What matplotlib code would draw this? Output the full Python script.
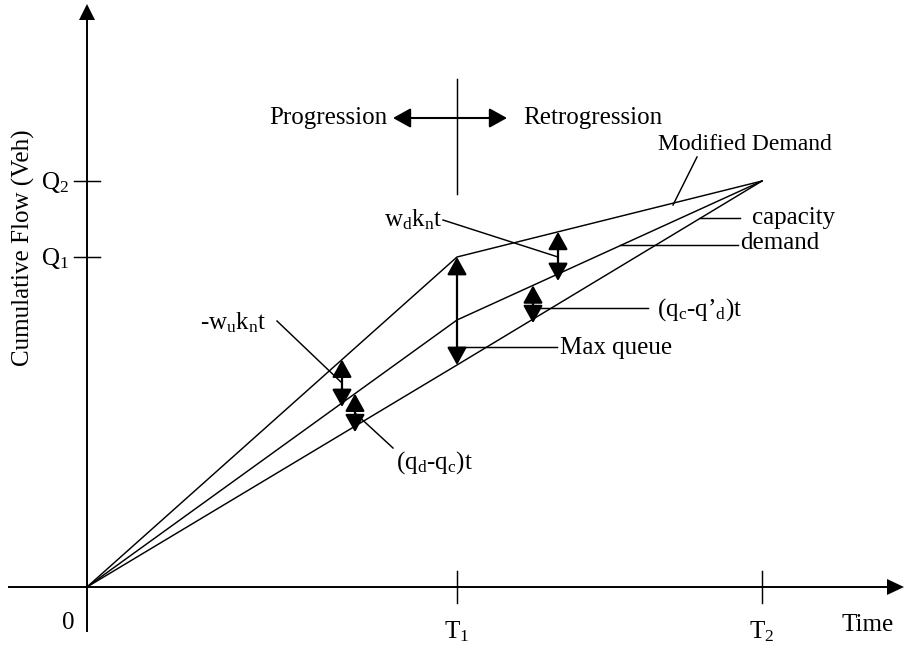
import numpy as np
import matplotlib
matplotlib.use("Agg")
import matplotlib.pyplot as plt
from matplotlib.patches import Polygon

plt.rcParams['font.family'] = ['Liberation Serif', 'DejaVu Serif']
plt.rcParams['mathtext.fontset'] = 'custom'
plt.rcParams['mathtext.rm'] = 'Liberation Serif'
plt.rcParams['mathtext.it'] = 'Liberation Serif'
plt.rcParams['mathtext.default'] = 'regular'

# Time breakpoints (0, T1, T2) and cumulative vehicle counts
times = [0, 370, 675]
modified_demand = [0, 330, 406]
demand = [0, 267, 406]
capacity = [0, 222, 406]

q_ticks = [330, 406]
q_labels = ['Q$_1$', 'Q$_2$']
t_ticks = [370, 675]
t_labels = ['T$_1$', 'T$_2$']

# Times at which the gaps between curves are marked
t_wu = 255
t_qdqc = 268
t_wd = 471
t_qcqd = 446

FS = 18
fig = plt.figure(figsize=(9.09, 6.49), dpi=100)
ax = fig.add_axes([0, 0, 1, 1])
ax.set_xlim(-87, 822)
ax.set_ylim(-62, 587)
ax.axis('off')

k = 'black'
HEAD = 'head_length=0.54,head_width=0.3'
LW = 1.05

# axes with arrow heads
ax.plot([0, 0], [-44, 570], color=k, lw=1.4)
ax.add_patch(Polygon([[-8, 567], [8, 567], [0, 583]], closed=True, color=k, lw=0))
ax.plot([-78, 800], [0, 0], color=k, lw=1.4)
ax.add_patch(Polygon([[800, -8], [800, 8], [817, 0]], closed=True, color=k, lw=0))

for q, lab in zip(q_ticks, q_labels):
    ax.plot([-13, 13], [q, q], color=k, lw=LW)
    ax.text(-18, q - 8, lab, ha='right', va='baseline', fontsize=FS)
for t, lab in zip(t_ticks, t_labels):
    ax.plot([t, t], [-16, 16], color=k, lw=LW)
    ax.text(t, -51, lab, ha='center', va='baseline', fontsize=FS)
ax.text(-19, -42, '0', ha='center', va='baseline', fontsize=FS)
ax.text(781, -44, 'Time', ha='center', va='baseline', fontsize=FS)
ax.text(-64, 339, 'Cumulative Flow (Veh)', rotation=90, ha='center',
        va='center', fontsize=FS)

# cumulative curves
for series in (modified_demand, demand, capacity):
    ax.plot(times, series, color=k, lw=LW, solid_joinstyle='miter')

# progression / retrogression marker
ax.plot([times[1], times[1]], [393, 508], color=k, lw=LW)
ax.annotate('', xy=(420, 469), xytext=(306, 469),
            arrowprops=dict(arrowstyle='<|-|>,' + HEAD, mutation_scale=20,
                            lw=1.5, color=k, shrinkA=0, shrinkB=0))
ax.text(300, 463, 'Progression', ha='right', va='baseline', fontsize=FS)
ax.text(436, 463, 'Retrogression', ha='left', va='baseline', fontsize=FS)


def gap_arrow(t, upper, lower, below=0.0):
    """Double arrow spanning the vertical gap between two curves at time t."""
    top = np.interp(t, times, upper)
    bot = np.interp(t, times, lower) - below
    ax.annotate('', xy=(t, top), xytext=(t, bot),
                arrowprops=dict(arrowstyle='<|-|>,' + HEAD, mutation_scale=20,
                                lw=1.6, color=k, shrinkA=0, shrinkB=0))


gap_arrow(t_wu, modified_demand, demand, below=4)
gap_arrow(t_qdqc, demand, capacity, below=6)
gap_arrow(times[1], modified_demand, capacity)
gap_arrow(t_wd, modified_demand, demand, below=7)
gap_arrow(t_qcqd, demand, capacity, below=4)

# labels with leader lines
ax.plot([610, 586], [430, 382], color=k, lw=LW)
ax.text(658, 437, 'Modified Demand', ha='center', va='baseline', fontsize=17)

ax.plot([613, 653], [369, 369], color=k, lw=LW)
ax.text(665, 363, 'capacity', ha='left', va='baseline', fontsize=FS)

ax.plot([533, 651], [342, 342], color=k, lw=LW)
ax.text(653, 338, 'demand', ha='left', va='baseline', fontsize=FS)

ax.plot([356, t_wd], [367, 330], color=k, lw=LW)
ax.text(355, 361, 'w$_d$k$_n$t', ha='right', va='baseline', fontsize=FS)

ax.plot([t_qcqd, 561], [279, 279], color=k, lw=LW)
ax.text(570, 271, '(q$_c$-q’$_d$)t', ha='left', va='baseline', fontsize=FS)

ax.plot([times[1], 470], [240, 240], color=k, lw=LW)
ax.text(473, 233, 'Max queue', ha='left', va='baseline', fontsize=FS)

ax.plot([190, t_wu], [266, 204], color=k, lw=LW)
ax.text(180, 258, '-w$_u$k$_n$t', ha='right', va='baseline', fontsize=FS)

ax.plot([306, t_qdqc], [139, 174], color=k, lw=LW)
ax.text(309, 118, '(q$_d$-q$_c$)t', ha='left', va='baseline', fontsize=FS)

fig.savefig('out.png', dpi=100)
